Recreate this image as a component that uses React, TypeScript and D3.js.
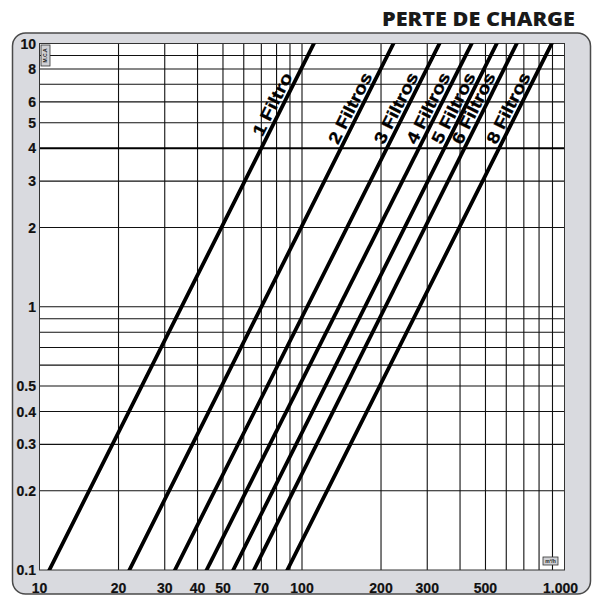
import * as d3 from "d3";
import React from "react";

// flow (m3/h) ticks along the bottom
const flowTicks = [10, 20, 30, 40, 50, 70, 100, 200, 300, 500, 1000];
const flowTickLabels = ["10", "20", "30", "40", "50", "70", "100", "200", "300", "500", "1.000"];
const flowGrid = [20, 30, 40, 50, 60, 70, 80, 90, 100, 200, 300, 400, 500, 600, 700, 800, 900];

// head loss (m.c.a) ticks on the left
const headTicks = [10, 8, 6, 5, 4, 3, 2, 1, 0.5, 0.4, 0.3, 0.2, 0.1];
const headTickLabels = ["10", "8", "6", "5", "4", "3", "2", "1", "0.5", "0.4", "0.3", "0.2", "0.1"];
const headGrid = [0.2, 0.3, 0.4, 0.5, 0.6, 0.7, 0.8, 0.9, 1, 2, 3, 5, 6, 7, 8, 9];
const headBold = 4;

// one line per filter count, read at h=0.1 and h=10
const filterLabels = ["1 Filtro", "2 Filtros", "3 Filtros", "4 Filtros", "5 Filtros", "6 Filtros", "8 Filtros"];
const flowAtMinHead = [10.9, 22.0, 32.8, 43.3, 54.7, 65.6, 87.9];
const flowAtMaxHead = [111, 223, 334, 443, 552, 658, 894];
const headRange = [0.1, 10];
const labelHead = 7.4;

const title = "PERTE DE CHARGE";

export default function App() {
  const svgWidth = 596;
  const svgHeight = 596;
  const plot = { left: 39.5, top: 43.5, right: 564.5, bottom: 570 };

  const x = d3.scaleLog().domain([10, 1000]).range([plot.left, plot.right]);
  const y = d3.scaleLog().domain([0.1, 10]).range([plot.bottom, plot.top]);

  const line = d3
    .line<{ q: number; h: number }>()
    .x((d) => x(d.q))
    .y((d) => y(d.h));

  const series = filterLabels.map((label, i) => ({
    label,
    points: [
      { q: flowAtMinHead[i], h: headRange[0] },
      { q: flowAtMaxHead[i], h: headRange[1] },
    ],
  }));

  const labelFont = "'Liberation Sans', Arial, sans-serif";

  return (
    <svg
      width={svgWidth}
      height={svgHeight}
      style={{ position: "absolute", left: 0, top: 0, background: "#fff" }}
    >
      <defs>
        <clipPath id="plotClip">
          <rect x={plot.left} y={plot.top} width={plot.right - plot.left} height={plot.bottom - plot.top} />
        </clipPath>
      </defs>

      <text
        x={575}
        y={26}
        textAnchor="end"
        fontFamily="'Open Sans', sans-serif"
        fontWeight="800"
        fontSize={20}
        textLength={193}
        lengthAdjust="spacingAndGlyphs"
        fill="#1a1a1a"
      >
        {title}
      </text>

      <rect x={12.5} y={33} width={578} height={561} rx={13} fill="#d9dadf" stroke="#4a4a4a" strokeWidth={1.5} />
      <rect x={plot.left} y={plot.top} width={plot.right - plot.left} height={plot.bottom - plot.top} fill="#fff" />

      <g stroke="#111" strokeWidth={1.1}>
        {flowGrid.map((q) => (
          <line key={"v" + q} x1={x(q)} x2={x(q)} y1={plot.top} y2={plot.bottom} />
        ))}
        {headGrid.map((h) => (
          <line key={"h" + h} x1={plot.left} x2={plot.right} y1={y(h)} y2={y(h)} />
        ))}
      </g>
      <line x1={plot.left} x2={plot.right} y1={y(headBold)} y2={y(headBold)} stroke="#000" strokeWidth={2} />
      <rect
        x={plot.left}
        y={plot.top}
        width={plot.right - plot.left}
        height={plot.bottom - plot.top}
        fill="none"
        stroke="#333"
        strokeWidth={1}
      />

      <g clipPath="url(#plotClip)">
        {series.map((s) => (
          <path key={s.label} d={line(s.points) || ""} fill="none" stroke="#000" strokeWidth={3.8} strokeLinecap="square" />
        ))}
      </g>

      {series.map((s) => {
        const p0 = s.points[0];
        const p1 = s.points[1];
        const t = (Math.log(labelHead) - Math.log(p0.h)) / (Math.log(p1.h) - Math.log(p0.h));
        const q = Math.exp(Math.log(p0.q) + t * (Math.log(p1.q) - Math.log(p0.q)));
        const a = Math.atan2(y(p1.h) - y(p0.h), x(p1.q) - x(p0.q));
        const off = 4;
        const px = x(q) + off * Math.sin(a);
        const py = y(labelHead) - off * Math.cos(a);
        return (
          <text
            key={"l" + s.label}
            transform={`translate(${px},${py}) rotate(${(a * 180) / Math.PI})`}
            textAnchor="end"
            fontFamily={labelFont}
            fontWeight="bold"
            fontSize={17}
            textLength={s.label.length * 8.6}
            lengthAdjust="spacingAndGlyphs"
            fill="#000"
            stroke="#000"
            strokeWidth={0.3}
          >
            {s.label}
          </text>
        );
      })}

      <g fontFamily={labelFont} fontWeight="bold" fontSize={14} fill="#111" stroke="#111" strokeWidth={0.2}>
        {headTicks.map((h, i) => (
          <text key={"yt" + h} x={36} y={y(h)} dy="0.36em" textAnchor="end">
            {headTickLabels[i]}
          </text>
        ))}
        {flowTicks.map((q, i) => (
          <text
            key={"xt" + q}
            x={i === flowTicks.length - 1 ? 578 : x(q)}
            y={593}
            textAnchor={i === flowTicks.length - 1 ? "end" : "middle"}
          >
            {flowTickLabels[i]}
          </text>
        ))}
      </g>

      <g>
        <rect x={41} y={45} width={9} height={21} fill="#cfd0d4" stroke="#333" strokeWidth={0.8} />
        <text
          transform="translate(45.5,55.5) rotate(-90)"
          textAnchor="middle"
          dy="0.35em"
          fontFamily={labelFont}
          fontWeight="bold"
          fontSize={5}
          fill="#222"
        >
          M.C.A
        </text>
        <rect x={543} y={557} width={15} height={8} fill="#cfd0d4" stroke="#333" strokeWidth={0.8} />
        <text x={550.5} y={561} dy="0.35em" textAnchor="middle" fontFamily={labelFont} fontWeight="bold" fontSize={5} fill="#222">
          m³/h
        </text>
      </g>
    </svg>
  );
}
